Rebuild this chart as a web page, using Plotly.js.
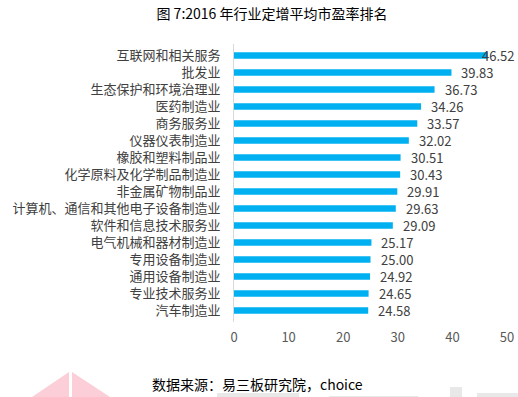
<!DOCTYPE html>
<html>
<head>
<meta charset="utf-8">
<script src="https://cdn.plot.ly/plotly-3.0.1.min.js"></script>
<style>html,body{margin:0;padding:0;background:#fff;}#chart{width:518px;height:397px;}</style>
</head>
<body>
<div id="chart"></div>
<script>
var categories = ["互联网和相关服务","批发业","生态保护和环境治理业","医药制造业","商务服务业","仪器仪表制造业","橡胶和塑料制品业","化学原料及化学制品制造业","非金属矿物制品业","计算机、通信和其他电子设备制造业","软件和信息技术服务业","电气机械和器材制造业","专用设备制造业","通用设备制造业","专业技术服务业","汽车制造业"];
var values = [46.52,39.83,36.73,34.26,33.57,32.02,30.51,30.43,29.91,29.63,29.09,25.17,25.00,24.92,24.65,24.58];
var xTicks = [0,10,20,30,40,50];
var titleText = "图 7:2016 年行业定增平均市盈率排名";
var sourceText = "数据来源：易三板研究院，choice";

var cjk = '"Noto Sans CJK SC", "Noto Sans", sans-serif';

var annotations = values.map(function(v, i){
  var overflow = i === 0;
  return {
    x: v, y: categories[i], xref: 'x', yref: 'y',
    text: v.toFixed(2), showarrow: false,
    xanchor: 'left', xshift: overflow ? -8 : 8,
    font: {family: cjk, size: 13, color: '#404040'}
  };
});
annotations.push({
  xref: 'paper', yref: 'paper', x: 0.06, y: 1, yshift: 31,
  text: sourceText, showarrow: false, xanchor: 'center'
});
annotations.pop();
annotations.push({
  xref: 'paper', yref: 'paper', x: (257-234)/(507-234), y: 0, yshift: -62,
  xanchor: 'center', yanchor: 'middle',
  text: sourceText, showarrow: false,
  font: {family: cjk, size: 14, color: '#000'}
});

var shapes = [
  {type:'path', xref:'paper', yref:'paper', path:'', line:{width:0}}
];
function px(x){ return (x-234)/(507-234); }
function py(y){ return (322-y)/(322-44); }
shapes = [
  {type:'path', xref:'paper', yref:'paper', layer:'below',
   path:'M '+px(32)+' '+py(397)+' L '+px(69)+' '+py(372)+' L '+px(69)+' '+py(397)+' Z',
   fillcolor:'#fccfd8', line:{width:0}},
  {type:'path', xref:'paper', yref:'paper', layer:'below',
   path:'M '+px(72)+' '+py(397)+' L '+px(72)+' '+py(372)+' L '+px(110)+' '+py(397)+' Z',
   fillcolor:'#fccfd8', line:{width:0}},
  {type:'rect', xref:'paper', yref:'paper', layer:'below', x0:px(217), x1:px(299), y0:py(397), y1:py(393), fillcolor:'#e8e8e8', line:{width:0}},
  {type:'rect', xref:'paper', yref:'paper', layer:'below', x0:px(329), x1:px(418), y0:py(397), y1:py(396), fillcolor:'#e8e8e8', line:{width:0}},
  {type:'rect', xref:'paper', yref:'paper', layer:'below', x0:px(450), x1:px(462), y0:py(397), y1:py(387), fillcolor:'#e8e8e8', line:{width:0}},
  {type:'rect', xref:'paper', yref:'paper', layer:'below', x0:px(477), x1:px(518), y0:py(397), y1:py(393), fillcolor:'#e8e8e8', line:{width:0}}
];

var trace = {
  type: 'bar', orientation: 'h',
  x: values, y: categories,
  marker: {color: '#00b0f0'},
  hoverinfo: 'x+y'
};

var layout = {
  width: 518, height: 397,
  margin: {l: 234, r: 11, t: 44, b: 75, pad: 0},
  paper_bgcolor: '#fff', plot_bgcolor: '#fff',
  bargap: 0.61,
  showlegend: false,
  title: {text: titleText, x: 272/518, xanchor: 'center', y: 1 - 14/397, yanchor: 'middle', yref: 'container',
          font: {family: cjk, size: 14, color: '#000'}},
  xaxis: {range: [0, 50], tickvals: xTicks, showgrid: false, zeroline: false, showline: false,
          ticks: '', ticklabelstandoff: 6, tickfont: {family: cjk, size: 13, color: '#595959'}, fixedrange: true},
  yaxis: {autorange: 'reversed', type: 'category', showgrid: false, zeroline: false,
          showline: true, linecolor: '#d9d9d9', linewidth: 1, ticks: '',
          ticklabelstandoff: 10, tickfont: {family: cjk, size: 13, color: '#404040'}, fixedrange: true},
  annotations: annotations,
  shapes: shapes
};

Plotly.newPlot('chart', [trace], layout, {displayModeBar: false, staticPlot: true});
</script>
</body>
</html>
